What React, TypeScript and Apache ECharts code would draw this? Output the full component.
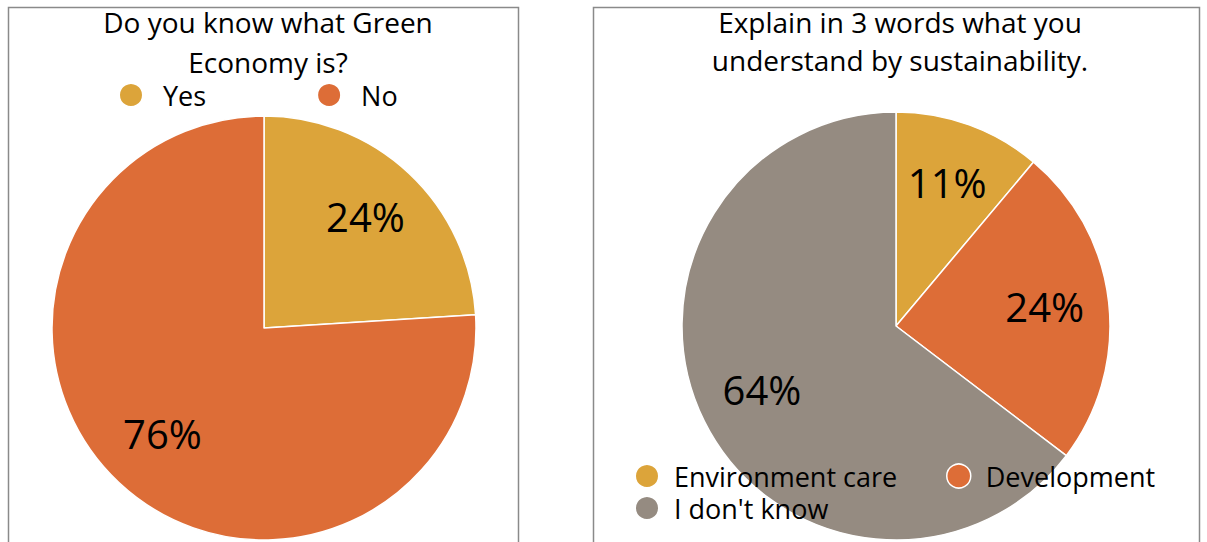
import React, { useEffect, useRef } from "react";
import * as echarts from "echarts";

const leftTitle = "Do you know what Green\nEconomy is?";
const leftCategories = ["Yes", "No"];
const leftValues = [24, 76];

const rightTitle = "Explain in 3 words what you\nunderstand by sustainability.";
const rightCategories = ["Environment care", "Development", "I don't know"];
const rightValues = [11, 24, 64];

const colorGold = "#DCA43A";
const colorOrange = "#DD6D37";
const colorGray = "#958B81";

const FONT = "'Open Sans', 'Noto Sans', sans-serif";

export default function App() {
  const ref = useRef<HTMLDivElement>(null);
  useEffect(() => {
    document.body.style.margin = "0";
    const chart = echarts.init(ref.current!, null, { renderer: "svg" });
    const leftCenter = [264, 328];
    const rightCenter = [896, 326];
    const pushOut = (center: number[], factor: number) => (params: any) => {
      const r = params.labelRect;
      const cx = r.x + r.width / 2;
      const cy = r.y + r.height / 2;
      return {
        x: center[0] + (cx - center[0]) * factor,
        y: center[1] + (cy - center[1]) * factor - 3,
        align: "center",
        verticalAlign: "middle",
      };
    };
    const labelStyle = {
      show: true,
      position: "inside",
      formatter: "{c}%",
      color: "#000",
      fontSize: 40,
      fontFamily: FONT,
    };
    const legendText = (pad: number) => ({
      fontSize: 27,
      lineHeight: 28,
      color: "#000",
      fontFamily: FONT,
      padding: [0, 0, 0, pad],
    });
    chart.setOption({
      animation: false,
      backgroundColor: "#fff",
      title: [
        {
          text: leftTitle,
          left: 263,
          top: -3,
          textAlign: "center",
          textStyle: { fontSize: 28, fontWeight: "normal", color: "#000", fontFamily: FONT, lineHeight: 40 },
        },
        {
          text: rightTitle,
          left: 895,
          top: -2,
          textAlign: "center",
          textStyle: { fontSize: 28, fontWeight: "normal", color: "#000", fontFamily: FONT, lineHeight: 38 },
        },
      ],
      legend: [
        {
          data: leftCategories,
          left: 113,
          top: 76,
          icon: "circle",
          itemWidth: 24,
          itemHeight: 24,
          itemGap: 110,
          textStyle: legendText(15),
        },
        {
          data: [rightCategories[0], rightCategories[2]],
          orient: "vertical",
          left: 629,
          top: 457,
          icon: "circle",
          itemWidth: 24,
          itemHeight: 24,
          itemGap: 4,
          textStyle: legendText(10),
        },
        {
          data: [rightCategories[1]],
          left: 941,
          top: 457,
          icon: "circle",
          itemWidth: 24,
          itemHeight: 24,
          itemStyle: { borderColor: "#fff", borderWidth: 1.5 },
          textStyle: legendText(10),
        },
      ],
      graphic: [
        {
          type: "rect",
          shape: { x: 8.5, y: 7.5, width: 510, height: 560 },
          style: { fill: "none", stroke: "#8a8a8a", lineWidth: 1.5 },
          z: 100,
        },
        {
          type: "rect",
          shape: { x: 593.5, y: 7.5, width: 606, height: 560 },
          style: { fill: "none", stroke: "#8a8a8a", lineWidth: 1.5 },
          z: 100,
        },
      ],
      series: [
        {
          type: "pie",
          center: leftCenter,
          radius: 212,
          startAngle: 90,
          clockwise: true,
          z: 1,
          label: labelStyle,
          labelLine: { show: false },
          labelLayout: pushOut(leftCenter, 1.36),
          itemStyle: { borderColor: "#fff", borderWidth: 1.5 },
          emphasis: { disabled: true },
          data: leftCategories.map((n, i) => ({
            name: n,
            value: leftValues[i],
            itemStyle: { color: [colorGold, colorOrange][i] },
          })),
        },
        {
          type: "pie",
          center: rightCenter,
          radius: 214,
          startAngle: 90,
          clockwise: true,
          z: 1,
          label: labelStyle,
          labelLine: { show: false },
          labelLayout: pushOut(rightCenter, 1.36),
          itemStyle: { borderColor: "#fff", borderWidth: 1.5 },
          emphasis: { disabled: true },
          data: rightCategories.map((n, i) => ({
            name: n,
            value: rightValues[i],
            itemStyle: { color: [colorGold, colorOrange, colorGray][i] },
          })),
        },
      ],
    });
    return () => chart.dispose();
  }, []);
  return <div ref={ref} style={{ width: 1207, height: 542 }} />;
}
